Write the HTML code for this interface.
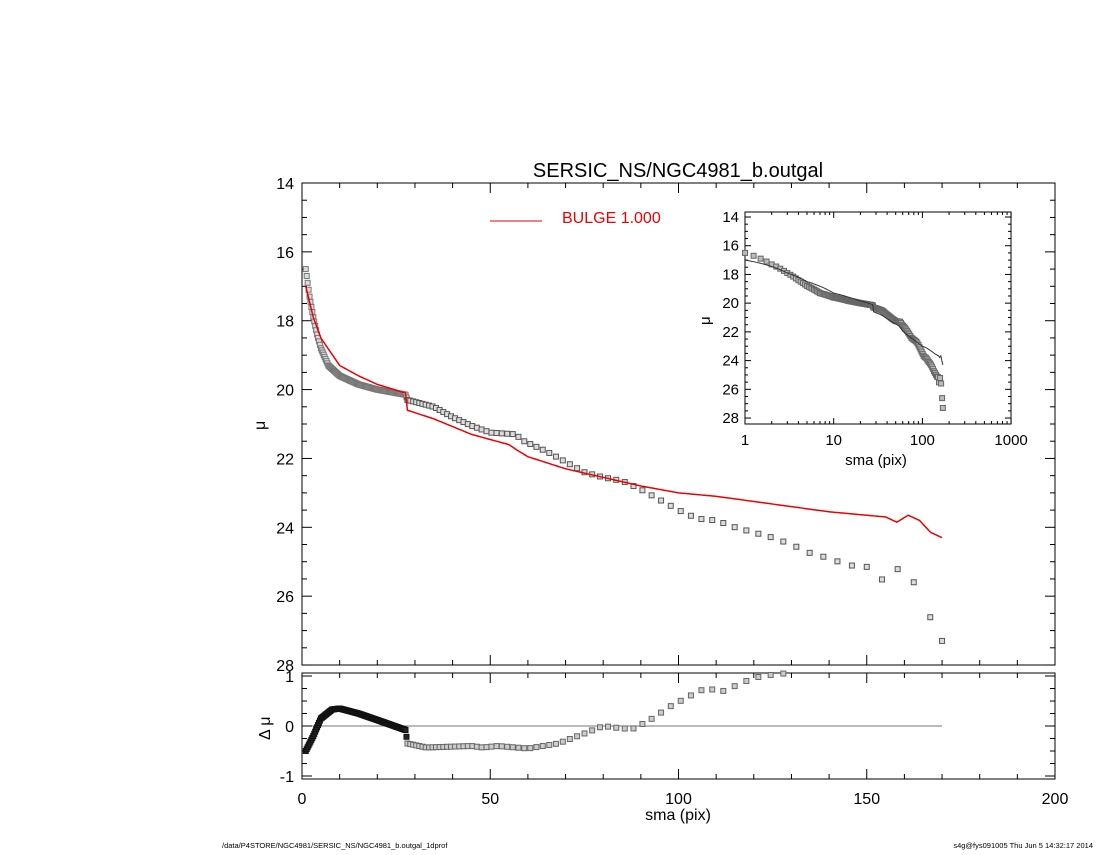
<!DOCTYPE html>
<html><head><meta charset="utf-8"><style>
body{margin:0;background:#fff;}
svg text{font-family:"Liberation Sans",sans-serif;}
</style></head><body>
<svg id="s" width="1100" height="850" xmlns="http://www.w3.org/2000/svg">
<text x="678" y="177" font-size="20" text-anchor="middle">SERSIC_NS/NGC4981_b.outgal</text>
<rect x="302" y="183" width="753" height="482" fill="none" stroke="#000" stroke-width="1"/>
<rect x="302" y="673" width="753" height="106" fill="none" stroke="#000" stroke-width="1"/>
<line x1="302" y1="726" x2="942" y2="726" stroke="#777" stroke-width="1"/>
<line x1="490" y1="221" x2="542" y2="221" stroke="#e00" stroke-width="1"/>
<text x="562" y="223" font-size="16" fill="#e00">BULGE  1.000</text>
<text x="265" y="430" font-size="16" transform="rotate(-90 265 430)">μ</text>
<text x="270" y="740" font-size="16" transform="rotate(-90 270 740)">Δ μ</text>
<text x="678" y="820" font-size="16" text-anchor="middle">sma (pix)</text>
<text x="222" y="848" font-size="7.5">/data/P4STORE/NGC4981/SERSIC_NS/NGC4981_b.outgal_1dprof</text>
<text x="1093" y="848" font-size="7.5" text-anchor="end">s4g@fys091005  Thu Jun  5 14:32:17 2014</text>
<rect x="745" y="212" width="266" height="212" fill="#fff" stroke="#000" stroke-width="1"/>
<text x="876" y="465" font-size="15" text-anchor="middle">sma (pix)</text>
<text x="710" y="325" font-size="15" transform="rotate(-90 710 325)">μ</text>
<g id="g"></g>
</svg>
<script>
var g=document.getElementById('g'),NS='http://www.w3.org/2000/svg';
function el(t,a){var e=document.createElementNS(NS,t);for(var k in a)e.setAttribute(k,a[k]);g.appendChild(e);return e;}
function txt(x,y,s,fs,anc){var e=el('text',{x:x,y:y,'font-size':fs,'text-anchor':anc||'middle'});e.textContent=s;}
function interp(tab,x){for(var i=0;i<tab.length-1;i++){if(x<=tab[i+1][0]){var a=tab[i],b=tab[i+1];if(b[0]==a[0])return b[1];return a[1]+(b[1]-a[1])*(x-a[0])/(b[0]-a[0]);}}return tab[tab.length-1][1];}
var X=function(x){return 302+x*3.765},Y=function(m){return 183+(m-14)*34.43},R=function(d){return 726-d*50};
for(var v=0;v<=200;v+=10){var big=v%50==0,L=big?10:5;
 el('line',{x1:X(v),y1:665,x2:X(v),y2:665-L,stroke:'#000'});el('line',{x1:X(v),y1:183,x2:X(v),y2:183+L,stroke:'#000'});
 el('line',{x1:X(v),y1:779,x2:X(v),y2:779-L,stroke:'#000'});el('line',{x1:X(v),y1:673,x2:X(v),y2:673+L,stroke:'#000'});
 if(big)txt(X(v),804,String(v),16);}
for(var m=14;m<=28;m+=0.5){var big=m%2==0,L=big?10:5;
 el('line',{x1:302,y1:Y(m),x2:302+L,y2:Y(m),stroke:'#000'});el('line',{x1:1055,y1:Y(m),x2:1055-L,y2:Y(m),stroke:'#000'});
 if(big)txt(294,Y(m)+6,String(m),16,'end');}
for(var d=-1;d<=1;d+=0.25){var big=d%1==0,L=big?10:5;
 el('line',{x1:302,y1:R(d),x2:302+L,y2:R(d),stroke:'#000'});el('line',{x1:1055,y1:R(d),x2:1055-L,y2:R(d),stroke:'#000'});
 if(big)txt(294,R(d)+6,String(d),16,'end');}
var P=[[1,16.5],[2,17.3],[3,17.9],[4,18.4],[5,18.8],[7,19.3],[10,19.6],[15,19.85],[20,20.0],[27.5,20.15],[28,20.3],[35,20.5],[40,20.8],[45,21.05],[50,21.25],[57,21.3],[58,21.45],[65,21.8],[70,22.1],[75,22.4],[80,22.55],[85,22.65],[90,22.9],[95,23.2],[100,23.5],[105,23.75],[110,23.8],[115,24.0],[120,24.15],[125,24.3],[130,24.5],[135,24.75],[140,24.9],[145,25.1],[150,25.15],[155,25.6],[160,25.0],[165,26.2],[170,27.3]];
var M=[[1,17.0],[3,17.9],[5,18.5],[10,19.3],[15,19.6],[20,19.85],[27.5,20.1],[28,20.6],[35,20.85],[45,21.3],[55,21.6],[57,21.75],[60,21.95],[70,22.3],[80,22.55],[90,22.8],[100,23.0],[110,23.1],[120,23.25],[130,23.4],[140,23.55],[150,23.65],[155,23.7],[158,23.85],[161,23.65],[164,23.8],[167,24.15],[170,24.3]];
var D=[[1,-0.5],[3,-0.2],[5,0.15],[8,0.33],[10,0.35],[15,0.25],[20,0.12],[27.5,-0.08],[28,-0.35],[33,-0.43],[45,-0.4],[48,-0.43],[52,-0.4],[60,-0.45],[68,-0.35],[75,-0.15],[80,0],[85,-0.05],[88,-0.05],[92,0.1],[98,0.4],[103,0.6],[107,0.75],[112,0.7],[118,0.9],[122,1.0],[128,1.05]];
var xs=[];for(var x=1;x<28;x+=0.25)xs.push(x);var x=28;while(x<=170){xs.push(x);x+=Math.max(0.6,x*0.027);}
xs.push(170);
xs.forEach(function(x){var c=x<28?'#777':'#555';
 el('rect',{x:X(x)-2.5,y:Y(interp(P,x))-2.5,width:5,height:5,fill:'#ddd',stroke:c,'stroke-width':1});
 if(x<=129){var dv=interp(D,x);el('rect',{x:X(x)-2.5,y:R(dv)-2.5,width:5,height:5,fill:x<28?'#222':'#ccc',stroke:x<28?'#111':'#666','stroke-width':1});}
});
var pts=[];for(var x=1;x<=170;x+=0.5)pts.push(X(x)+','+Y(interp(M,x)));
el('polyline',{points:pts.join(' '),fill:'none',stroke:'#e00','stroke-width':1.5});
var IX=function(x){return 745+Math.log10(x)*88.7},IY=function(m){return 217+(m-14)*14.36};
[1,10,100,1000].forEach(function(d){for(var k=1;k<10;k++){var v=d*k;if(v>1000)break;var L=k==1?6:3;
 el('line',{x1:IX(v),y1:424,x2:IX(v),y2:424-L,stroke:'#000'});el('line',{x1:IX(v),y1:212,x2:IX(v),y2:212+L,stroke:'#000'});}
 txt(IX(d),445,String(d),15);});
for(var m=14;m<=28;m+=0.5){var big=m%2==0,L=big?6:3;
 el('line',{x1:745,y1:IY(m),x2:745+L,y2:IY(m),stroke:'#000'});el('line',{x1:1011,y1:IY(m),x2:1011-L,y2:IY(m),stroke:'#000'});
 if(big)txt(739,IY(m)+5,String(m),15,'end');}
xs.forEach(function(x){el('rect',{x:IX(x)-2.5,y:IY(interp(P,x))-2.5,width:5,height:5,fill:'#bbb',stroke:'#666','stroke-width':1});});
var ip=[];for(var x=1;x<=170;x*=1.03)ip.push(IX(x)+','+IY(interp(M,x)));ip.push(IX(170)+','+IY(24.3));
el('polyline',{points:ip.join(' '),fill:'none',stroke:'#333','stroke-width':1});
</script>
</body></html>
